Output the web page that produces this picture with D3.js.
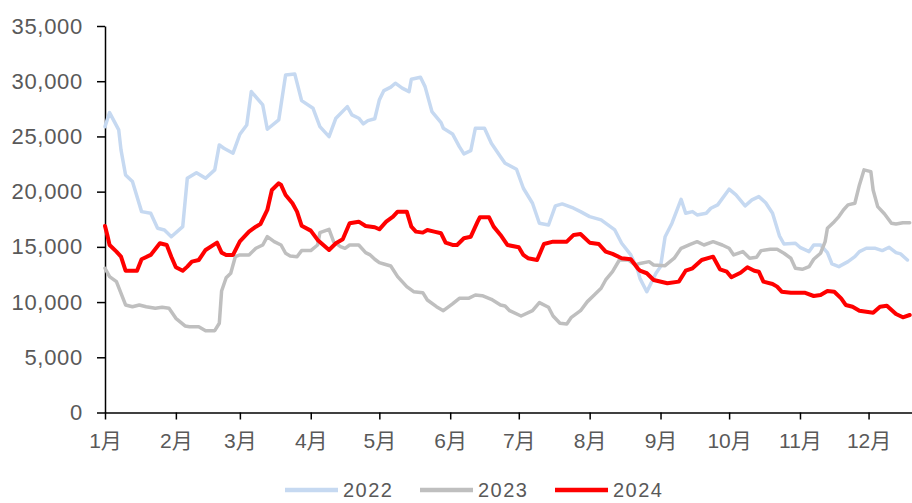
<!DOCTYPE html>
<html>
<head>
<meta charset="utf-8">
<script src="https://cdn.jsdelivr.net/npm/d3@7"></script>
<style>
  html, body { margin: 0; padding: 0; background: #fff; }
  svg { display: block; }
  text { font-family: "Liberation Sans", Arial, "Noto Sans CJK SC", sans-serif; fill: #595959; }
</style>
</head>
<body>
<svg id="chart" width="912" height="503"></svg>
<script>
// ---- data (day of year, 0 = 1 Jan) ----
const monthStarts = [0, 31, 59, 90, 120, 151, 181, 212, 243, 273, 304, 334];
const monthLabels = ["1月","2月","3月","4月","5月","6月","7月","8月","9月","10月","11月","12月"];
const yTicks = [0, 5000, 10000, 15000, 20000, 25000, 30000, 35000];
const seriesNames = ["2022", "2023", "2024"];

const days2022 = [0,2,6,7,9,12,16,20,23,26,29,34,36,40,44,48,50,52,56,59,62,64,69,71,76,79,83,86,91,94,98,101,106,108,111,113,115,118,120,122,125,127,130,133,134,138,140,143,147,148,152,155,157,160,162,166,169,173,175,180,183,187,190,194,197,200,205,208,212,217,223,226,230,233,234,237,241,243,245,248,252,254,257,259,263,265,268,273,276,280,283,286,289,292,295,297,302,304,308,310,313,316,318,321,325,328,330,333,337,340,343,346,348,351];
const values2022 = [25890,27160,25590,23780,21510,20910,18190,18040,16690,16530,15920,16830,21210,21720,21210,21970,24230,23930,23480,25200,26040,29060,27850,25650,26490,30570,30660,28240,27550,25890,24980,26650,27700,26950,26650,26130,26430,26600,28310,29150,29460,29820,29370,29060,30180,30360,29510,27250,26250,25740,25230,24080,23420,23710,25740,25740,24380,23170,22570,22030,20310,18950,17140,16980,18710,18890,18500,18190,17740,17440,16530,15330,14270,12910,12150,10940,12610,13210,15920,17140,19310,18040,18190,17890,18040,18500,18800,20220,19700,18710,19250,19550,19000,18040,16000,15260,15330,14960,14570,15170,15170,14480,13450,13210,13660,14110,14570,14870,14870,14660,14960,14480,14360,13810];

const days2023 = [0,2,5,9,12,15,18,22,25,28,31,35,37,41,44,48,50,51,53,55,57,59,63,66,69,71,74,77,79,81,84,86,90,93,94,98,100,103,105,107,111,114,116,118,120,122,125,128,132,135,139,141,145,148,152,155,159,162,165,169,173,175,177,182,187,190,194,196,199,202,204,208,211,214,217,219,222,225,229,232,234,238,240,245,249,252,256,259,262,266,270,273,275,279,282,285,287,291,294,297,300,302,305,308,310,313,315,316,319,321,323,325,328,330,332,335,336,338,341,344,346,349,352];
const values2023 = [13060,12300,11850,9740,9580,9740,9580,9440,9530,9440,8530,7840,7770,7770,7410,7410,8080,11000,12200,12610,14110,14270,14270,14870,15170,15920,15470,15170,14420,14180,14110,14660,14660,15170,16290,16590,15470,15020,14870,15170,15170,14480,14270,13880,13570,13450,13270,12300,11400,10940,10850,10190,9580,9220,9830,10340,10340,10640,10580,10250,9740,9650,9220,8740,9220,9950,9530,8740,8080,8020,8620,9220,10040,10640,11250,12000,12750,13810,13810,13360,13500,13660,13360,13300,13970,14870,15230,15470,15170,15470,15170,14870,14270,14570,13970,14060,14660,14780,14780,14420,13970,13060,12970,13210,13880,14420,15470,16690,17280,17740,18340,18800,18950,20610,21970,21810,20150,18640,17980,17140,17070,17190,17190];

const days2024 = [0,1,2,5,7,9,14,16,20,24,27,29,31,34,36,38,41,44,49,51,53,56,59,63,66,68,71,73,76,77,79,82,84,86,90,93,96,98,101,104,107,111,114,118,120,123,126,128,132,134,136,139,141,144,147,149,152,154,157,160,163,164,168,170,173,176,181,183,185,189,192,196,202,205,208,212,216,219,222,226,230,233,234,237,240,246,251,254,257,261,266,269,272,274,278,281,284,286,288,292,294,296,300,306,310,313,316,319,322,324,327,330,333,336,339,342,346,349,352];
const values2024 = [16890,16080,15170,14570,14110,12840,12840,13880,14270,15330,15170,14110,13150,12840,13210,13660,13810,14720,15380,14480,14270,14270,15500,16380,16830,17070,18340,20150,20760,20610,19700,18950,18190,16920,16470,15630,15080,14720,15330,15690,17140,17280,16890,16780,16590,17280,17740,18190,18190,16830,16380,16290,16530,16380,16230,15380,15170,15170,15780,15920,17280,17680,17680,16830,16080,15170,14960,14270,13970,13810,15260,15470,15470,16080,16170,15380,15260,14570,14360,13970,13880,13060,12840,12610,12000,11700,11850,12840,13060,13810,14110,12970,12750,12250,12660,13150,12840,12750,11850,11640,11400,10940,10850,10850,10550,10640,11010,10940,10340,9740,9580,9220,9130,9040,9580,9670,8920,8620,8830];

const seriesDays = [days2022, days2023, days2024];
const seriesValues = [values2022, values2023, values2024];
const seriesColors = ["#C6D9F1", "#BFBFBF", "#FF0000"];
const seriesWidths = [3.5, 3.5, 4];

// ---- layout ----
const svg = d3.select("#chart");
const x = d3.scaleLinear().domain([0, 353]).range([105, 912]);
const y = d3.scaleLinear().domain([0, 35000]).range([412.5, 26]);

// y axis
const yAxis = svg.append("g")
  .attr("transform", "translate(105,0)")
  .call(d3.axisLeft(y).tickValues(yTicks).tickFormat(d3.format(",")).tickSize(8).tickSizeOuter(0).tickPadding(14));
yAxis.select(".domain").attr("stroke", "#000").attr("stroke-width", 1.5);
yAxis.selectAll(".tick line").attr("stroke", "#000").attr("stroke-width", 1.5);
yAxis.selectAll(".tick text").attr("font-size", 22).attr("letter-spacing", "0.7px")
  .attr("fill", "#595959").style("font-family", '"Liberation Sans", Arial, sans-serif');

// x axis
const xAxis = svg.append("g")
  .attr("transform", "translate(0,412.5)")
  .call(d3.axisBottom(x).tickValues(monthStarts).tickFormat((d, i) => monthLabels[i]).tickSize(7).tickSizeOuter(0).tickPadding(14));
xAxis.select(".domain").attr("stroke", "#000").attr("stroke-width", 1.5);
xAxis.selectAll(".tick line").attr("stroke", "#000").attr("stroke-width", 1.5);
xAxis.selectAll(".tick text").attr("font-size", 21)
  .attr("fill", "#595959").style("font-family", '"Liberation Sans", Arial, "Noto Sans CJK SC", sans-serif');

// lines
const line = d3.line().x(d => x(d[0])).y(d => y(d[1]));
seriesNames.forEach((name, i) => {
  const pts = seriesDays[i].map((d, j) => [d, seriesValues[i][j]]);
  svg.append("path")
    .datum(pts)
    .attr("fill", "none")
    .attr("stroke", seriesColors[i])
    .attr("stroke-width", seriesWidths[i])
    .attr("stroke-linejoin", "round")
    .attr("stroke-linecap", "round")
    .attr("d", line);
});

// legend
const legendX = [285, 420, 555];
const legend = svg.append("g");
seriesNames.forEach((name, i) => {
  legend.append("line")
    .attr("x1", legendX[i]).attr("x2", legendX[i] + 53)
    .attr("y1", 490).attr("y2", 490)
    .attr("stroke", seriesColors[i]).attr("stroke-width", 4.5);
  legend.append("text")
    .attr("x", legendX[i] + 58).attr("y", 490)
    .attr("dominant-baseline", "central")
    .attr("font-size", 20).attr("letter-spacing", "1.5px")
    .text(name);
});
</script>
</body>
</html>
